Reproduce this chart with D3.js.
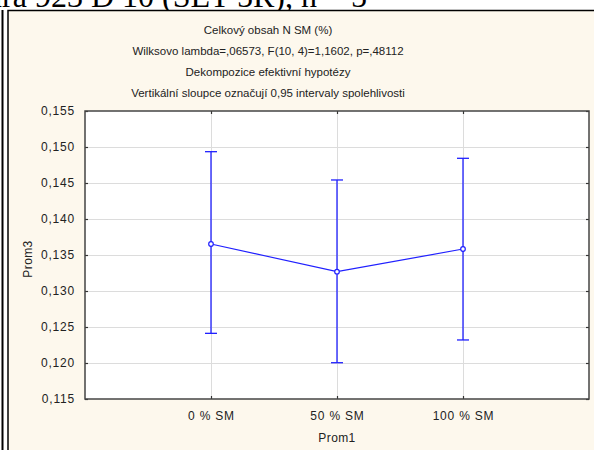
<!DOCTYPE html>
<html>
<head>
<meta charset="utf-8">
<script src="https://cdn.jsdelivr.net/npm/d3@7"></script>
<style>
  html, body { margin: 0; padding: 0; background: #ffffff; }
  svg { display: block; }
  text { font-family: Arial, "Liberation Sans", sans-serif; }
</style>
</head>
<body>
<svg id="chart" width="594" height="450"></svg>
<script>
// Group means of Prom3 with 0,95 confidence limits per level of Prom1
const categories = ["0 % SM", "50 % SM", "100 % SM"];
const means = [0.13653, 0.13268, 0.13583];
const upper = [0.14935, 0.14542, 0.14843];
const lower = [0.12412, 0.12004, 0.12320];
const yTicks = [0.115, 0.120, 0.125, 0.130, 0.135, 0.140, 0.145, 0.150, 0.155];
const titleLines = [
  "Celkový obsah N SM (%)",
  "Wilksovo lambda=,06573, F(10, 4)=1,1602, p=,48112",
  "Dekompozice efektivní hypotézy",
  "Vertikální sloupce označují 0,95 intervaly spolehlivosti"
];

const svg = d3.select("#chart");
const W = 594, H = 450;
const plot = { left: 85, right: 589, top: 111, bottom: 399 };
const blue = "#2020ff";

// Document heading running off the top edge
svg.append("text")
  .attr("x", 367).attr("y", 7)
  .attr("text-anchor", "end")
  .style("font-family", "'Liberation Serif', 'Times New Roman', serif")
  .style("font-size", "32px")
  .attr("fill", "#000")
  .text("Kultura 923 D 10 (SET 5R), n = 5");

// Page rule on the left and the graph window
svg.append("line")
  .attr("x1", 2.5).attr("x2", 2.5).attr("y1", 10).attr("y2", H)
  .attr("stroke", "#000").attr("stroke-width", 2);
svg.append("rect")
  .attr("x", 8).attr("y", 10.5).attr("width", W).attr("height", H)
  .attr("fill", "#fdf8ed").attr("stroke", "#000").attr("stroke-width", 1.5);

// Titles
const titles = svg.append("g").attr("fill", "#222").style("font-size", "11.5px");
titles.selectAll("text").data(titleLines).join("text")
  .attr("x", 268)
  .attr("y", (d, i) => [34, 55, 76, 97][i])
  .attr("text-anchor", "middle")
  .text(d => d);

const x = d3.scalePoint().domain(categories).range([plot.left, plot.right]).padding(1);
const y = d3.scaleLinear().domain([0.115, 0.155]).range([plot.bottom, plot.top]);
const fmt = v => d3.format(".3f")(v).replace(".", ",");

// Plot background
svg.append("rect")
  .attr("x", plot.left).attr("y", plot.top)
  .attr("width", plot.right - plot.left).attr("height", plot.bottom - plot.top)
  .attr("fill", "#fff");

// Grid
const grid = svg.append("g").attr("stroke", "#dcdcdc").attr("stroke-width", 1);
grid.selectAll(".gy").data(yTicks.slice(1, -1)).join("line")
  .attr("x1", plot.left).attr("x2", plot.right)
  .attr("y1", d => Math.round(y(d)) + 0.5).attr("y2", d => Math.round(y(d)) + 0.5);
grid.selectAll(".gx").data(categories).join("line")
  .attr("x1", d => Math.round(x(d)) + 0.5).attr("x2", d => Math.round(x(d)) + 0.5)
  .attr("y1", plot.top).attr("y2", plot.bottom);

// Axes with inward ticks on all four sides
const axisStyle = g => {
  g.select(".domain").remove();
  g.selectAll(".tick line").attr("stroke", "#333").attr("stroke-width", 1.2);
  g.selectAll(".tick text")
    .attr("fill", "#222")
    .style("font-size", "12px")
    .style("font-family", "Arial, 'Liberation Sans', sans-serif")
    .style("letter-spacing", "0.8px");
};
svg.append("g").attr("transform", `translate(${plot.left},0)`)
  .call(d3.axisLeft(y).tickValues(yTicks).tickFormat(fmt).tickSizeInner(-3).tickSizeOuter(0).tickPadding(10))
  .call(axisStyle);
svg.append("g").attr("transform", `translate(${plot.right},0)`)
  .call(d3.axisRight(y).tickValues(yTicks).tickFormat("").tickSizeInner(-3).tickSizeOuter(0))
  .call(axisStyle);
svg.append("g").attr("transform", `translate(0,${plot.bottom})`)
  .call(d3.axisBottom(x).tickSizeInner(-3).tickSizeOuter(0).tickPadding(12))
  .call(axisStyle);
svg.append("g").attr("transform", `translate(0,${plot.top})`)
  .call(d3.axisTop(x).tickFormat("").tickSizeInner(-3).tickSizeOuter(0))
  .call(axisStyle);

// Frame
svg.append("rect")
  .attr("x", plot.left).attr("y", plot.top)
  .attr("width", plot.right - plot.left).attr("height", plot.bottom - plot.top)
  .attr("fill", "none").attr("stroke", "#444").attr("stroke-width", 1.5);

// Axis titles
svg.append("text")
  .attr("x", (plot.left + plot.right) / 2).attr("y", 442)
  .attr("text-anchor", "middle").attr("fill", "#222")
  .style("font-size", "12px").style("letter-spacing", "0.4px")
  .text("Prom1");
svg.append("text")
  .attr("transform", `translate(32,${(plot.top + plot.bottom) / 2 + 4}) rotate(-90)`)
  .attr("text-anchor", "middle").attr("fill", "#222")
  .style("font-size", "12px").style("letter-spacing", "0.4px")
  .text("Prom3");

// Confidence interval bars
const rows = categories.map((c, i) => ({ c, m: means[i], lo: lower[i], hi: upper[i] }));
const bars = svg.append("g").attr("stroke", blue).attr("stroke-width", 1.3).attr("fill", "none");
bars.selectAll(".v").data(rows).join("line")
  .attr("x1", d => x(d.c)).attr("x2", d => x(d.c))
  .attr("y1", d => y(d.hi)).attr("y2", d => y(d.lo));
bars.selectAll(".ct").data(rows).join("line")
  .attr("x1", d => x(d.c) - 6).attr("x2", d => x(d.c) + 6)
  .attr("y1", d => y(d.hi)).attr("y2", d => y(d.hi));
bars.selectAll(".cb").data(rows).join("line")
  .attr("x1", d => x(d.c) - 6).attr("x2", d => x(d.c) + 6)
  .attr("y1", d => y(d.lo)).attr("y2", d => y(d.lo));

// Mean line and markers
svg.append("path")
  .datum(rows)
  .attr("fill", "none").attr("stroke", blue).attr("stroke-width", 1.2)
  .attr("d", d3.line().x(d => x(d.c)).y(d => y(d.m)));
svg.append("g").selectAll("circle").data(rows).join("circle")
  .attr("cx", d => x(d.c)).attr("cy", d => y(d.m)).attr("r", 2.3)
  .attr("fill", "#fff").attr("stroke", blue).attr("stroke-width", 1.2);
</script>
</body>
</html>
